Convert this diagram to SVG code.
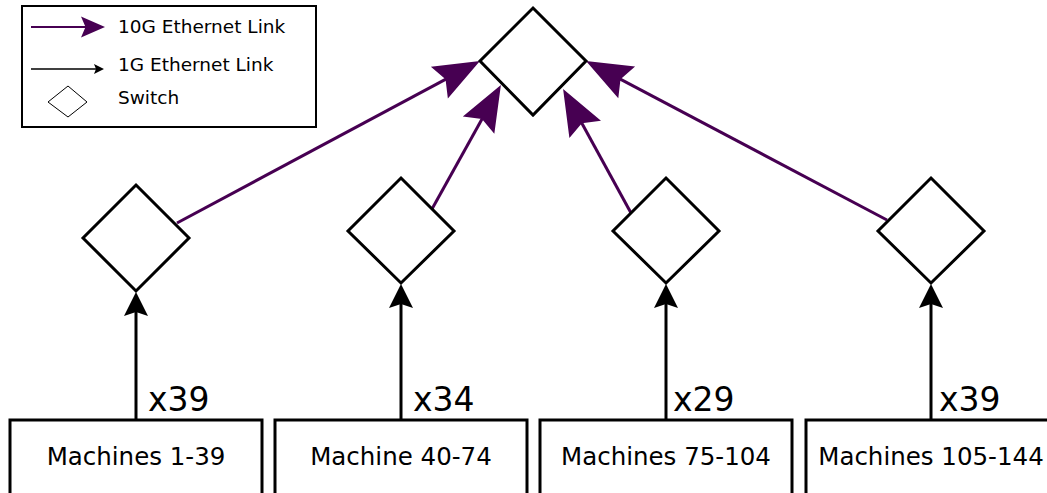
<svg xmlns="http://www.w3.org/2000/svg" width="1047" height="493" viewBox="0 0 1047 493">
<style>
text{font-family:"DejaVu Sans","Liberation Sans",sans-serif;fill:#000}
.sw{fill:#fff;stroke:#000;stroke-width:3}
.box{fill:#fff;stroke:#000;stroke-width:3}
.lbl{font-size:24.5px;text-anchor:middle}
.cnt{font-size:33px}
.leg{font-size:18.5px}
.p{stroke:#470052;stroke-width:3;fill:none}
.b{stroke:#000;stroke-width:3;fill:none}
</style>
<defs>
<marker id="pBig" markerUnits="userSpaceOnUse" viewBox="-50 -20 55 40" markerWidth="55" markerHeight="40" refX="-20" refY="0" orient="auto" overflow="visible">
<path d="M0,0 L-46,-18 L-39,0 L-46,18 Z" fill="#470052"/>
</marker>
<marker id="bBig" markerUnits="userSpaceOnUse" viewBox="-30 -15 35 30" markerWidth="35" markerHeight="30" refX="-10" refY="0" orient="auto" overflow="visible">
<path d="M0,0 L-24,-12 L-20,0 L-24,12 Z" fill="#000"/>
</marker>
<marker id="pSmall" markerUnits="userSpaceOnUse" viewBox="-30 -15 35 30" markerWidth="35" markerHeight="30" refX="-10" refY="0" orient="auto" overflow="visible">
<path d="M0,0 L-24,-10.5 L-19.5,0 L-24,10.5 Z" fill="#470052"/>
</marker>
<marker id="bSmall" markerUnits="userSpaceOnUse" viewBox="-15 -8 20 16" markerWidth="20" markerHeight="16" refX="-5" refY="0" orient="auto" overflow="visible">
<path d="M0,0 L-10,-5 L-8,0 L-10,5 Z" fill="#000"/>
</marker>
</defs>
<rect width="1047" height="493" fill="#fff"/>

<g id="legend">
<rect x="22" y="6" width="294" height="121" fill="#fff" stroke="#000" stroke-width="2"/>
<line x1="31" y1="27" x2="95" y2="27" stroke="#470052" stroke-width="2" marker-end="url(#pSmall)"/>
<text class="leg" x="118" y="33">10G Ethernet Link</text>
<line x1="31" y1="69" x2="99" y2="69" stroke="#000" stroke-width="1.5" marker-end="url(#bSmall)"/>
<text class="leg" x="118" y="71">1G Ethernet Link</text>
<path d="M68,86 L87,102 L68,117 L48,102 Z" fill="#fff" stroke="#000" stroke-width="1"/>
<text class="leg" x="118" y="104">Switch</text>
</g>

<g id="connectors">
<line class="p" x1="177" y1="223" x2="462.3" y2="70.4" marker-end="url(#pBig)"/>
<line class="p" x1="432" y1="209" x2="491.2" y2="102.4" marker-end="url(#pBig)"/>
<line class="p" x1="631" y1="213" x2="572.7" y2="106.5" marker-end="url(#pBig)"/>
<line class="p" x1="887" y1="220" x2="603.7" y2="70.3" marker-end="url(#pBig)"/>
<line class="b" x1="136" y1="420" x2="136" y2="302" marker-end="url(#bBig)"/>
<line class="b" x1="401" y1="420" x2="401" y2="294" marker-end="url(#bBig)"/>
<line class="b" x1="666" y1="420" x2="666" y2="294" marker-end="url(#bBig)"/>
<line class="b" x1="931" y1="420" x2="931" y2="294" marker-end="url(#bBig)"/>
</g>

<g id="core-switch">
<path class="sw" d="M533,8 L586,61 L533,115 L480,61 Z"/>
</g>
<g id="switch-1">
<path class="sw" d="M136,185 L189,238 L136,291 L83,238 Z"/>
</g>
<g id="switch-2">
<path class="sw" d="M401,178 L454,231 L401,283 L348,231 Z"/>
</g>
<g id="switch-3">
<path class="sw" d="M666,178 L719,231 L666,283 L613,231 Z"/>
</g>
<g id="switch-4">
<path class="sw" d="M931,178 L984,231 L931,283 L878,231 Z"/>
</g>

<g id="machines-1">
<rect class="box" x="10" y="420" width="252" height="80"/>
<text class="lbl" x="136" y="465">Machines 1-39</text>
<text class="cnt" x="148" y="411">x39</text>
</g>
<g id="machines-2">
<rect class="box" x="275" y="420" width="252" height="80"/>
<text class="lbl" x="401" y="465">Machine 40-74</text>
<text class="cnt" x="413" y="411">x34</text>
</g>
<g id="machines-3">
<rect class="box" x="540" y="420" width="252" height="80"/>
<text class="lbl" x="666" y="465">Machines 75-104</text>
<text class="cnt" x="673" y="411">x29</text>
</g>
<g id="machines-4">
<rect class="box" x="806" y="420" width="260" height="80"/>
<text class="lbl" x="931" y="465">Machines 105-144</text>
<text class="cnt" x="939" y="411">x39</text>
</g>
</svg>
